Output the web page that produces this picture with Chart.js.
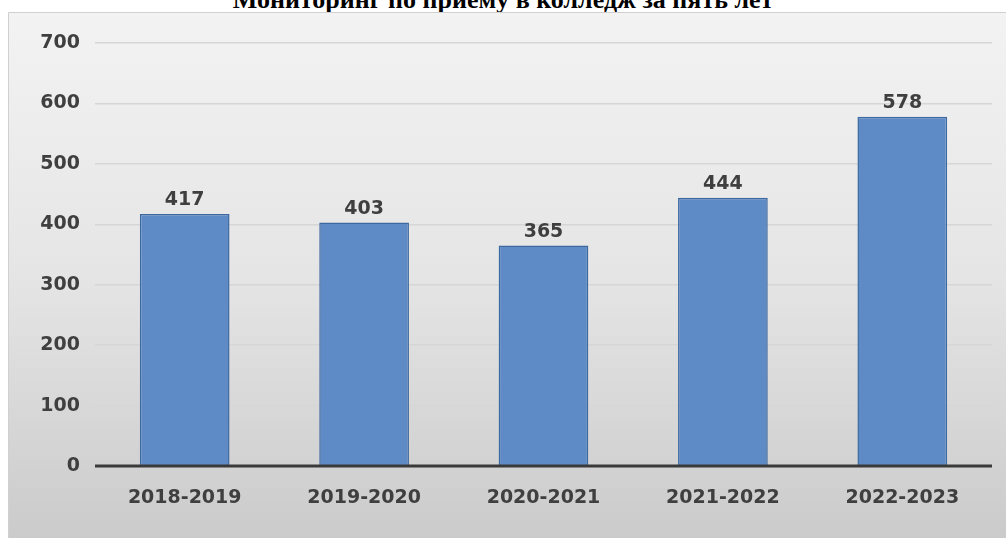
<!DOCTYPE html>
<html lang="ru">
<head>
<meta charset="utf-8">
<title>Мониторинг по приему в колледж за пять лет</title>
<script src="https://cdn.jsdelivr.net/npm/chart.js@4/dist/chart.umd.min.js"></script>
<style>
  html, body { margin: 0; padding: 0; background: #ffffff; overflow: hidden; }
  #wrap { position: relative; width: 1006px; height: 538px; }
  #title {
    position: absolute; left: 0; top: -13px; width: 1006px;
    text-align: center; font: bold 26px 'Liberation Serif', 'Times New Roman', serif;
    line-height: 26px; color: #000; z-index: 0; white-space: nowrap;
  }
  #chart { position: absolute; left: 0; top: 0; z-index: 1; }
</style>
</head>
<body>
<div id="wrap">
  <div id="title">Мониторинг по приему в колледж за пять лет</div>
  <canvas id="chart" width="1006" height="538"></canvas>
</div>
<script>
'use strict';

// Chart data
const years = ['2018-2019', '2019-2020', '2020-2021', '2021-2022', '2022-2023'];
const admitted = [417, 403, 365, 444, 578];
const yTicks = [0, 100, 200, 300, 400, 500, 600, 700];

const TEXT_COLOR = '#3f3f3f';
const LABEL_FONT = { family: "'DejaVu Sans', sans-serif", size: 19, weight: 'bold' };

// Grey gradient panel behind the plot (Excel-style chart area)
const panelPlugin = {
  id: 'panel',
  beforeDraw(chart) {
    const { ctx, width, height } = chart;
    const grad = ctx.createLinearGradient(0, 12, 0, height);
    grad.addColorStop(0, '#f3f3f3');
    grad.addColorStop(0.5, '#e5e5e5');
    grad.addColorStop(1, '#cbcbcb');
    ctx.save();
    ctx.fillStyle = grad;
    ctx.fillRect(8, 12, width - 8, height - 12);
    ctx.strokeStyle = '#d0d0d0';
    ctx.lineWidth = 1;
    ctx.beginPath();
    ctx.moveTo(8.5, height);
    ctx.lineTo(8.5, 12.5);
    ctx.lineTo(width, 12.5);
    ctx.stroke();
    ctx.restore();
  },
};

// Value labels above each bar
const valueLabels = {
  id: 'valueLabels',
  afterDatasetsDraw(chart) {
    const { ctx } = chart;
    const meta = chart.getDatasetMeta(0);
    ctx.save();
    ctx.font = `${LABEL_FONT.weight} ${LABEL_FONT.size}px ${LABEL_FONT.family}`;
    ctx.fillStyle = TEXT_COLOR;
    ctx.textAlign = 'center';
    ctx.textBaseline = 'bottom';
    meta.data.forEach((bar, i) => {
      ctx.fillText(String(admitted[i]), bar.x, bar.y - 4);
    });
    ctx.restore();
  },
};

// Thick dark baseline at zero
const baseLine = {
  id: 'baseLine',
  afterDatasetsDraw(chart) {
    const { ctx, chartArea } = chart;
    const y = chart.scales.y.getPixelForValue(0);
    ctx.save();
    ctx.strokeStyle = '#3a3a3a';
    ctx.lineWidth = 3;
    ctx.beginPath();
    ctx.moveTo(chartArea.left, y);
    ctx.lineTo(chartArea.right, y);
    ctx.stroke();
    ctx.restore();
  },
};

new Chart(document.getElementById('chart'), {
  type: 'bar',
  data: {
    labels: years,
    datasets: [{
      data: admitted,
      backgroundColor: '#5e8bc5',
      borderColor: '#3d68a0',
      borderWidth: 1.5,
      barPercentage: 0.5,
      categoryPercentage: 1,
    }],
  },
  options: {
    responsive: false,
    animation: false,
    layout: { padding: { left: 8, right: 14, top: 43, bottom: 0 } },
    plugins: {
      legend: { display: false },
      title: { display: false },
      tooltip: { enabled: false },
    },
    scales: {
      x: {
        grid: { display: false, drawTicks: false },
        border: { display: false },
        ticks: { color: TEXT_COLOR, font: LABEL_FONT, padding: 21 },
        afterFit: (scale) => { scale.height = 72; },
      },
      y: {
        min: 0,
        max: 700,
        afterBuildTicks: (scale) => { scale.ticks = yTicks.map((v) => ({ value: v })); },
        grid: { color: '#d6d6d6', lineWidth: 1.5, drawTicks: false },
        border: { display: false },
        ticks: { color: TEXT_COLOR, font: LABEL_FONT, padding: 15 },
        afterFit: (scale) => { scale.width = 87; },
      },
    },
  },
  plugins: [panelPlugin, valueLabels, baseLine],
});
</script>
</body>
</html>
